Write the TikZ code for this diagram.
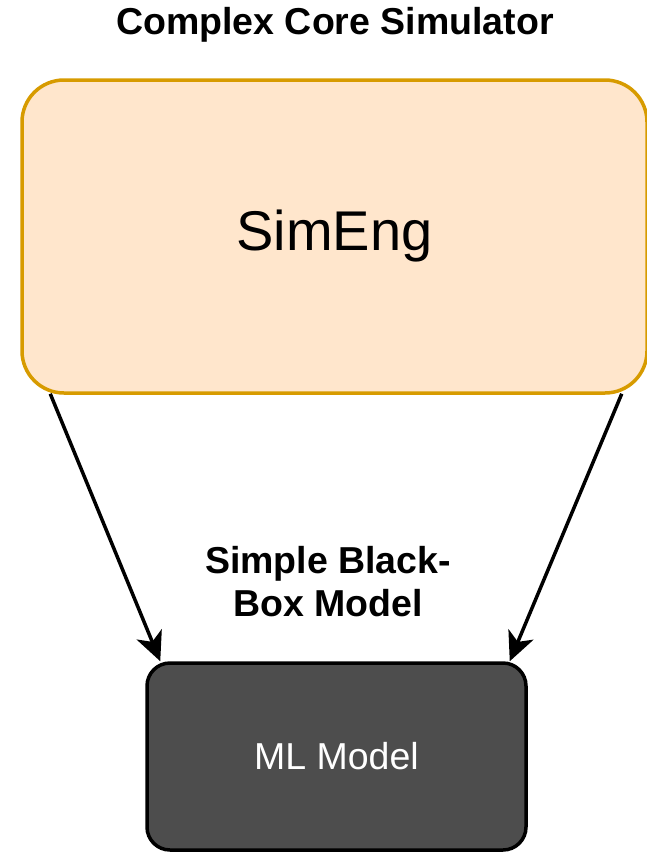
\documentclass[tikz,border=0pt]{standalone}
\usepackage{fontspec}
\setmainfont{Liberation Sans}
\usetikzlibrary{arrows.meta,calc}
\definecolor{peachfill}{HTML}{FFE6CC}
\definecolor{peachline}{HTML}{D79B00}
\definecolor{darkbox}{HTML}{4D4D4D}
\begin{document}
\begin{tikzpicture}[x=1pt,y=-1pt,
  simbox/.style={draw=peachline, fill=peachfill, line width=3.5pt, rounded corners=42pt,
    minimum width=625pt, minimum height=313pt, inner sep=0pt,
    font=\fontsize{56}{64}\selectfont},
  mlbox/.style={draw=black, fill=darkbox, line width=3.5pt, rounded corners=23pt,
    minimum width=379pt, minimum height=187pt, inner sep=0pt, text=white,
    font=\fontsize{37.5}{43}\selectfont},
  boldlabel/.style={font=\bfseries\fontsize{37.5}{43}\selectfont, align=center, inner sep=0pt},
  link/.style={line width=3.5pt, -{Stealth[length=29pt,width=27pt,inset=8pt]}}]
\useasboundingbox (0,0) rectangle (646,852);

\node[boldlabel] (title) at (335,25) {Complex Core Simulator};
\node[simbox] (sim) at (334.5,236.5) {SimEng};
\node[mlbox] (ml) at (336.5,756.5) {ML Model};
\node[boldlabel] (bb) at (328,582) {Simple Black-\\Box Model};

\coordinate (lstart) at ($(sim.south west)+(30,-1)$);
\coordinate (rstart) at ($(sim.south east)+(-27,-1)$);
\draw[link] (lstart) -- ($(ml.north west)+(15,0)$);
\draw[link] (rstart) -- ($(ml.north east)+(-18,0)$);
\end{tikzpicture}
\end{document}
